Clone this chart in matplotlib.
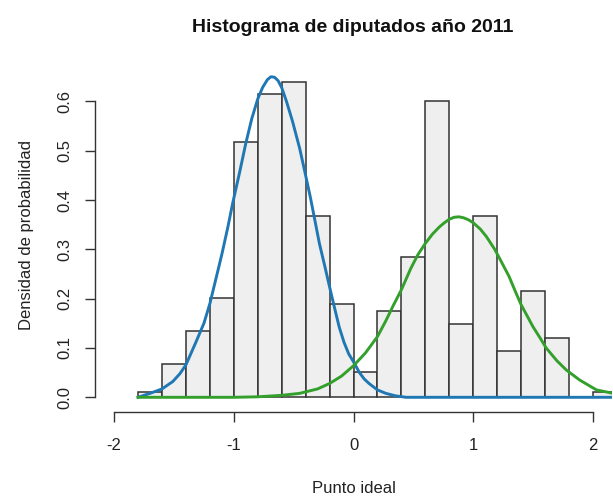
import matplotlib
matplotlib.use("Agg")
import matplotlib.pyplot as plt
import numpy as np

plt.rcParams['font.family'] = ['Liberation Sans', 'DejaVu Sans']

# Histogram (density) data
bin_edges = [-1.8, -1.6, -1.4, -1.2, -1.0, -0.8, -0.6, -0.4, -0.2, 0.0,
             0.2, 0.4, 0.6, 0.8, 1.0, 1.2, 1.4, 1.6, 1.8, 2.0, 2.2]
densities = [0.010, 0.067, 0.134, 0.202, 0.518, 0.615, 0.640, 0.368, 0.189,
             0.052, 0.175, 0.285, 0.600, 0.148, 0.368, 0.094, 0.216, 0.121,
             0.000, 0.010]

# Blue density curve (left group)
blue_x = [-1.80, -1.70, -1.60, -1.51, -1.45, -1.40, -1.32, -1.25, -1.20, -1.15,
          -1.10, -1.05, -1.01, -0.95, -0.90, -0.85, -0.80, -0.76, -0.72, -0.69,
          -0.66, -0.63, -0.60, -0.56, -0.51, -0.45, -0.40, -0.36, -0.33, -0.285,
          -0.24, -0.20, -0.16, -0.12, -0.08, -0.04, 0.00, 0.05, 0.09, 0.13,
          0.20, 0.27, 0.35, 0.44, 1.00, 2.20]
blue_y = [0.000, 0.008, 0.017, 0.032, 0.048, 0.066, 0.110, 0.150, 0.190, 0.240,
          0.290, 0.345, 0.393, 0.458, 0.515, 0.565, 0.605, 0.628, 0.644, 0.650,
          0.649, 0.642, 0.628, 0.600, 0.560, 0.505, 0.450, 0.405, 0.368, 0.312,
          0.266, 0.224, 0.183, 0.143, 0.112, 0.088, 0.072, 0.050, 0.037, 0.028,
          0.015, 0.008, 0.003, 0.000, 0.000, 0.000]

# Green density curve (right group)
green_x = [-1.80, -1.00, -0.80, -0.60, -0.45, -0.30, -0.20, -0.10, 0.00, 0.10,
           0.20, 0.27, 0.33, 0.40, 0.48, 0.54, 0.60, 0.66, 0.72, 0.76,
           0.80, 0.84, 0.88, 0.92, 0.96, 1.00, 1.06, 1.11, 1.18, 1.22,
           1.30, 1.35, 1.40, 1.50, 1.56, 1.61, 1.70, 1.78, 1.89, 2.03,
           2.17, 2.20]
green_y = [0.000, 0.000, 0.001, 0.004, 0.008, 0.017, 0.028, 0.043, 0.064, 0.090,
           0.123, 0.155, 0.185, 0.218, 0.262, 0.290, 0.312, 0.331, 0.346, 0.354,
           0.361, 0.365, 0.366, 0.364, 0.360, 0.354, 0.341, 0.326, 0.300, 0.282,
           0.245, 0.216, 0.188, 0.143, 0.120, 0.100, 0.074, 0.055, 0.035, 0.015,
           0.008, 0.007]

x_ticks = [-2, -1, 0, 1, 2]
y_ticks = [0.0, 0.1, 0.2, 0.3, 0.4, 0.5, 0.6]

W, H = 613, 498
fig = plt.figure(figsize=(W / 100, H / 100), dpi=100)
ax = fig.add_axes([95 / W, (H - 411.7) / H, (612 - 95) / W, (411.7 - 59) / H])

lefts = bin_edges[:-1]
widths = np.diff(bin_edges)
ax.bar(lefts, densities, width=widths, align='edge', color='#efefef',
       edgecolor='#333333', linewidth=1.1, zorder=2)
ax.plot(blue_x, blue_y, color='#1F78B4', linewidth=2.1, zorder=3,
        solid_joinstyle='round')
ax.plot(green_x, green_y, color='#33A02C', linewidth=2.1, zorder=3,
        solid_joinstyle='round')

ax.set_xlim(-2.16, 2.16)
ax.set_ylim(-0.0292, 0.686)

for s in ['top', 'right']:
    ax.spines[s].set_visible(False)
ax.spines['left'].set_bounds(0, 0.6)
ax.spines['bottom'].set_bounds(-2, 2)
for s in ['left', 'bottom']:
    ax.spines[s].set_color('#333333')
    ax.spines[s].set_linewidth(1.0)

ax.set_xticks(x_ticks)
ax.set_xticklabels([str(v) for v in x_ticks])
ax.set_yticks(y_ticks)
ax.set_yticklabels([f"{v:.1f}" for v in y_ticks], rotation=90, va='center')
ax.tick_params(axis='both', direction='out', length=7, width=1.0,
               color='#333333', labelsize=12, labelcolor='#222222')
ax.tick_params(axis='x', pad=12)
ax.tick_params(axis='y', pad=9)

fig.text(352.5 / W, 1 - 32 / H, "Histograma de diputados año 2011",
         ha='center', va='baseline', fontsize=14, fontweight='bold',
         color='#111111')
fig.text(353.5 / W, 1 - 493 / H, "Punto ideal", ha='center', va='baseline',
         fontsize=12, color='#222222')
fig.text(27 / W, 1 - 235 / H, "Densidad de probabilidad", ha='center',
         va='center', rotation=90, fontsize=12, color='#222222')

fig.savefig("out.png", dpi=100)
